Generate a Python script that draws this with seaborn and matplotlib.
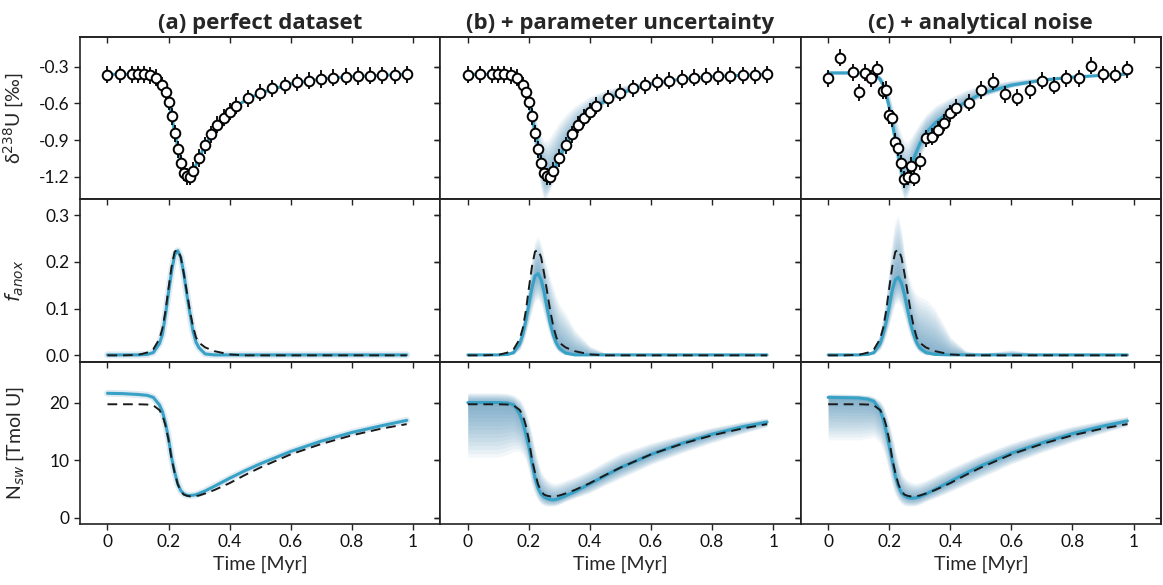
import numpy as np
import matplotlib
matplotlib.use('Agg')
import matplotlib.pyplot as plt
from matplotlib.ticker import FixedLocator, FixedFormatter
import seaborn as sns

sns.set_style('ticks')
plt.rcParams['font.family'] = ['Lato', 'DejaVu Sans']
plt.rcParams['mathtext.fontset'] = 'dejavusans'
plt.rcParams['axes.unicode_minus'] = False

# ---------------- data ----------------
titles = ['(a) perfect dataset', '(b) + parameter uncertainty', '(c) + analytical noise']
ylabels = ['δ$^{238}$U [‰]', r'$f_{anox}$', r'N$_{sw}$ [Tmol U]']
xlabel = 'Time [Myr]'

x_ticks = [0, 0.2, 0.4, 0.6, 0.8, 1.0]
x_ticklabels = ['0', '0.2', '0.4', '0.6', '0.8', '1']
y_ticks = [[-0.3, -0.6, -0.9, -1.2], [0.0, 0.1, 0.2, 0.3], [0, 10, 20]]
y_ticklabels = [['-0.3', '-0.6', '-0.9', '-1.2'], ['0.0', '0.1', '0.2', '0.3'], ['0', '10', '20']]

t_obs = [0.00, 0.04, 0.08, 0.10, 0.12, 0.14, 0.16, 0.18, 0.19, 0.20, 0.21, 0.22, 0.23,
         0.24, 0.25, 0.26, 0.27, 0.28, 0.30, 0.32, 0.34, 0.36, 0.38, 0.40, 0.42, 0.46,
         0.50, 0.54, 0.58, 0.62, 0.66, 0.70, 0.74, 0.78, 0.82, 0.86, 0.90, 0.94, 0.98]
d238_perfect = [-0.365, -0.362, -0.362, -0.362, -0.362, -0.368, -0.39, -0.45, -0.505, -0.585,
                -0.705, -0.845, -0.975, -1.09, -1.165, -1.195, -1.20, -1.15, -1.045, -0.94,
                -0.85, -0.775, -0.715, -0.668, -0.62, -0.558, -0.513, -0.477, -0.45, -0.428,
                -0.414, -0.40, -0.39, -0.382, -0.376, -0.373, -0.37, -0.368, -0.362]
d238_noisy = [-0.395, -0.226, -0.346, -0.507, -0.35, -0.395, -0.319, -0.496, -0.49, -0.695,
              -0.722, -0.913, -0.96, -1.09, -1.22, -1.2, -1.11, -1.208, -1.072, -0.886,
              -0.873, -0.813, -0.758, -0.681, -0.636, -0.594, -0.49, -0.423, -0.524, -0.553,
              -0.49, -0.414, -0.455, -0.395, -0.395, -0.292, -0.36, -0.365, -0.322]
d238_err = 0.07

t_model = [0, 0.05, 0.10, 0.13, 0.15, 0.17, 0.18, 0.19, 0.20, 0.21, 0.22, 0.23, 0.24, 0.25,
           0.26, 0.27, 0.28, 0.29, 0.30, 0.32, 0.35, 0.40, 0.45, 0.50, 0.60, 0.70, 0.80, 0.90, 0.98]

# delta238U model fits
d238_fit_ab = [-0.362, -0.362, -0.362, -0.364, -0.372, -0.41, -0.45, -0.51, -0.59, -0.70, -0.83,
               -0.96, -1.08, -1.16, -1.195, -1.195, -1.16, -1.10, -1.045, -0.94, -0.82, -0.668,
               -0.575, -0.515, -0.44, -0.40, -0.38, -0.37, -0.362]
d238_b_lo = [-0.37, -0.37, -0.37, -0.375, -0.39, -0.45, -0.51, -0.59, -0.70, -0.84, -0.99, -1.14,
             -1.30, -1.40, -1.36, -1.30, -1.24, -1.16, -1.10, -0.98, -0.85, -0.70, -0.60, -0.53,
             -0.45, -0.41, -0.385, -0.375, -0.367]
d238_b_hi = [-0.355, -0.355, -0.355, -0.356, -0.36, -0.385, -0.41, -0.46, -0.53, -0.62, -0.71,
             -0.79, -0.86, -0.90, -0.90, -0.87, -0.83, -0.79, -0.75, -0.69, -0.62, -0.54, -0.49,
             -0.455, -0.415, -0.39, -0.375, -0.365, -0.357]
d238_fit_c = [-0.35, -0.35, -0.35, -0.352, -0.36, -0.40, -0.45, -0.53, -0.63, -0.76, -0.90, -1.03,
              -1.15, -1.22, -1.20, -1.13, -1.05, -0.99, -0.93, -0.84, -0.76, -0.66, -0.59, -0.52,
              -0.45, -0.41, -0.385, -0.37, -0.36]
d238_c_lo = [-0.365, -0.365, -0.365, -0.37, -0.38, -0.44, -0.50, -0.60, -0.72, -0.87, -1.03, -1.18,
             -1.32, -1.40, -1.36, -1.28, -1.20, -1.12, -1.05, -0.94, -0.84, -0.71, -0.62, -0.55,
             -0.47, -0.42, -0.39, -0.375, -0.365]
d238_c_hi = [-0.335, -0.335, -0.335, -0.338, -0.345, -0.37, -0.40, -0.45, -0.52, -0.61, -0.70,
             -0.78, -0.85, -0.90, -0.91, -0.88, -0.84, -0.80, -0.76, -0.69, -0.62, -0.55, -0.49,
             -0.45, -0.41, -0.385, -0.37, -0.355, -0.35]

# f_anox
f_true = [0, 0, 0.001, 0.006, 0.013, 0.035, 0.058, 0.095, 0.144, 0.19, 0.222, 0.226, 0.21, 0.175,
          0.135, 0.095, 0.062, 0.038, 0.027, 0.017, 0.009, 0.002, 0, 0, 0, 0, 0, 0, 0]
f_fit_a = [0.001, 0.001, 0.001, 0.002, 0.006, 0.025, 0.045, 0.087, 0.135, 0.18, 0.215, 0.224, 0.21,
           0.175, 0.13, 0.09, 0.052, 0.028, 0.016, 0.003, 0.001, 0.001, 0.001, 0.001, 0.001, 0.001,
           0.001, 0.001, 0.001]
f_fit_b = [0.001, 0.001, 0.001, 0.002, 0.006, 0.025, 0.045, 0.075, 0.11, 0.145, 0.17, 0.175, 0.162,
           0.135, 0.10, 0.068, 0.043, 0.026, 0.015, 0.005, 0.001, 0.001, 0.001, 0.001, 0.001, 0.001,
           0.001, 0.001, 0.001]
f_b_lo = [0, 0, 0, 0, 0.002, 0.012, 0.025, 0.045, 0.07, 0.095, 0.115, 0.12, 0.11, 0.085, 0.06, 0.04,
          0.022, 0.012, 0.006, 0.001, 0, 0, 0, 0, 0, 0, 0, 0, 0]
f_b_hi = [0.002, 0.002, 0.003, 0.006, 0.012, 0.042, 0.07, 0.11, 0.16, 0.21, 0.245, 0.255, 0.24,
          0.21, 0.19, 0.165, 0.145, 0.125, 0.11, 0.09, 0.055, 0.02, 0.005, 0.002, 0.002, 0.002,
          0.002, 0.002, 0.002]
f_fit_c = [0.001, 0.001, 0.001, 0.002, 0.006, 0.025, 0.045, 0.072, 0.105, 0.14, 0.162, 0.167, 0.155,
           0.13, 0.098, 0.068, 0.044, 0.027, 0.016, 0.006, 0.002, 0.001, 0.001, 0.001, 0.001, 0.001,
           0.001, 0.001, 0.001]
f_c_lo = [0, 0, 0, 0, 0.002, 0.012, 0.024, 0.042, 0.065, 0.09, 0.11, 0.115, 0.105, 0.082, 0.058,
          0.038, 0.022, 0.012, 0.006, 0.001, 0, 0, 0, 0, 0, 0, 0, 0, 0]
f_c_hi = [0.002, 0.002, 0.003, 0.006, 0.012, 0.05, 0.085, 0.13, 0.19, 0.25, 0.29, 0.30, 0.27, 0.22,
          0.18, 0.155, 0.14, 0.13, 0.125, 0.12, 0.10, 0.04, 0.01, 0.004, 0.012, 0.002, 0.002, 0.002,
          0.002]

# N_sw
N_true = [19.7, 19.7, 19.7, 19.65, 19.5, 18.7, 17.8, 16.0, 13.5, 10.2, 7.8, 5.8, 4.6, 4.0, 3.8, 3.7,
          3.7, 3.75, 3.85, 4.2, 4.8, 6.0, 7.4, 8.7, 11.0, 12.8, 14.3, 15.5, 16.25]
N_fit_a = [21.6, 21.55, 21.4, 21.25, 20.9, 19.6, 18.4, 16.4, 13.7, 10.4, 7.9, 5.9, 4.7, 4.15, 3.9,
           3.85, 3.9, 4.0, 4.2, 4.65, 5.45, 6.85, 8.15, 9.35, 11.5, 13.3, 14.8, 16.0, 16.9]
N_fit_b = [20.0, 20.0, 20.0, 19.9, 19.6, 18.0, 16.5, 14.5, 12.3, 9.5, 6.9, 5.1, 4.1, 3.6, 3.3, 3.15,
           3.1, 3.2, 3.35, 3.8, 4.5, 5.9, 7.3, 8.7, 11.0, 12.9, 14.5, 15.8, 16.6]
N_b_lo = [10.5, 10.5, 10.5, 11.0, 11.5, 11.5, 11.0, 10.0, 8.0, 5.5, 4.0, 3.0, 2.4, 2.1, 2.0, 2.0,
          2.0, 2.1, 2.3, 2.8, 3.4, 4.3, 5.6, 6.8, 9.2, 11.2, 13.0, 14.6, 15.8]
N_b_hi = [21.7, 21.7, 21.7, 21.6, 21.3, 20.6, 19.8, 18.5, 16.8, 14.5, 12.0, 9.8, 8.0, 7.2, 6.6, 6.2,
          6.0, 6.0, 6.1, 6.5, 7.1, 8.3, 9.8, 11.2, 13.0, 14.4, 15.7, 16.7, 17.3]
N_fit_c = [20.9, 20.85, 20.8, 20.6, 20.2, 18.7, 17.2, 15.0, 12.5, 9.8, 7.2, 5.4, 4.3, 3.8, 3.5, 3.4,
           3.4, 3.5, 3.65, 4.1, 4.9, 6.3, 7.7, 9.0, 11.2, 13.0, 14.6, 15.9, 16.8]
N_c_lo = [13.5, 13.5, 13.5, 13.8, 14.0, 13.0, 11.8, 10.0, 7.8, 5.5, 3.9, 3.0, 2.4, 2.1, 2.0, 2.0,
          2.0, 2.1, 2.3, 2.8, 3.4, 4.5, 5.7, 6.9, 9.3, 11.3, 13.1, 14.7, 15.9]
N_c_hi = [21.5, 21.5, 21.4, 21.3, 21.0, 20.3, 19.6, 18.2, 16.5, 14.3, 11.8, 9.6, 7.8, 7.0, 6.5, 6.2,
          6.0, 6.0, 6.1, 6.5, 7.3, 8.6, 9.8, 11.0, 13.0, 14.6, 15.9, 16.9, 17.6]

# ---------------- style ----------------
BLUE = '#38a2c6'
SHADE = '#2a78a8'
xlim = (-0.09, 1.09)
ylims = [(-1.383, -0.057), (-0.0135, 0.334), (-1.1, 27.1)]

fig, axes = plt.subplots(3, 3, figsize=(11.63, 5.85), dpi=100, sharex='col', sharey='row')
fig.subplots_adjust(left=80 / 1163, right=1161 / 1163, top=1 - 37 / 585, bottom=1 - 524 / 585,
                    wspace=0, hspace=0)


def shade(ax, mean, lo, hi):
    m, l, h = np.asarray(mean), np.asarray(lo), np.asarray(hi)
    fracs = np.linspace(1.0, 0.06, 14)
    for k in fracs:
        ax.fill_between(t_model, m + k * (l - m), m + k * (h - m), color=SHADE, alpha=0.055,
                        lw=0, zorder=1)


def fitline(ax, y, halo=False):
    if halo:
        sns.lineplot(x=t_model, y=y, ax=ax, color=SHADE, lw=5, alpha=0.15, sort=False,
                     estimator=None, zorder=2)
    sns.lineplot(x=t_model, y=y, ax=ax, color=BLUE, lw=2.2, sort=False, estimator=None, zorder=3)


def trueline(ax, y):
    sns.lineplot(x=t_model, y=y, ax=ax, color='#1a1a1a', lw=1.4, linestyle=(0, (5, 3)),
                 sort=False, estimator=None, zorder=4)


def points(ax, y):
    ax.errorbar(t_obs, y, yerr=d238_err, fmt='none', ecolor='k', elinewidth=1.3, zorder=5)
    sns.scatterplot(x=t_obs, y=y, ax=ax, marker='o', s=48, facecolor='white', edgecolor='k',
                    linewidth=1.4, zorder=6)


# top row
fitline(axes[0, 0], d238_fit_ab)
points(axes[0, 0], d238_perfect)
shade(axes[0, 1], d238_fit_ab, d238_b_lo, d238_b_hi)
fitline(axes[0, 1], d238_fit_ab)
points(axes[0, 1], d238_perfect)
shade(axes[0, 2], d238_fit_c, d238_c_lo, d238_c_hi)
fitline(axes[0, 2], d238_fit_c)
points(axes[0, 2], d238_noisy)

# middle row
fitline(axes[1, 0], f_fit_a, halo=True)
trueline(axes[1, 0], f_true)
shade(axes[1, 1], f_fit_b, f_b_lo, f_b_hi)
fitline(axes[1, 1], f_fit_b)
trueline(axes[1, 1], f_true)
shade(axes[1, 2], f_fit_c, f_c_lo, f_c_hi)
fitline(axes[1, 2], f_fit_c)
trueline(axes[1, 2], f_true)

# bottom row
fitline(axes[2, 0], N_fit_a, halo=True)
trueline(axes[2, 0], N_true)
shade(axes[2, 1], N_fit_b, N_b_lo, N_b_hi)
fitline(axes[2, 1], N_fit_b)
trueline(axes[2, 1], N_true)
shade(axes[2, 2], N_fit_c, N_c_lo, N_c_hi)
fitline(axes[2, 2], N_fit_c)
trueline(axes[2, 2], N_true)

for r in range(3):
    for c in range(3):
        ax = axes[r, c]
        ax.set_xlim(*xlim)
        ax.set_ylim(*ylims[r])
        ax.xaxis.set_major_locator(FixedLocator(x_ticks))
        ax.xaxis.set_major_formatter(FixedFormatter(x_ticklabels))
        ax.yaxis.set_major_locator(FixedLocator(y_ticks[r]))
        ax.yaxis.set_major_formatter(FixedFormatter(y_ticklabels[r]))
        for s in ax.spines.values():
            s.set_visible(True)
            s.set_linewidth(1.2)
            s.set_color('#222222')
        ax.tick_params(axis='both', which='major', direction='out', length=4, width=1.0,
                       labelsize=12.5, color='#222222', labelcolor='#111111')
        # inward ticks on the top and right edges
        sx = ax.secondary_xaxis('top')
        sx.set_xticks(x_ticks)
        sx.tick_params(direction='in', length=4, width=1.0, labeltop=False, color='#222222')
        sx.spines['top'].set_linewidth(1.2)
        sy = ax.secondary_yaxis('right')
        sy.set_yticks(y_ticks[r])
        sy.tick_params(direction='in', length=4, width=1.0, labelright=False, color='#222222')
        sy.spines['right'].set_linewidth(1.2)
        ax.set_xlabel('')
        ax.set_ylabel('')
        if r == 2:
            ax.set_xlabel(xlabel, fontsize=14)
        if c == 0:
            ax.set_ylabel(ylabels[r], fontsize=14)
            ax.yaxis.set_label_coords(-0.15, 0.5)
        if r == 0:
            ax.set_title(titles[c], fontsize=16, fontweight='bold', pad=6,
                         family=['Open Sans', 'DejaVu Sans'])

fig.savefig('out.png', dpi=100)
